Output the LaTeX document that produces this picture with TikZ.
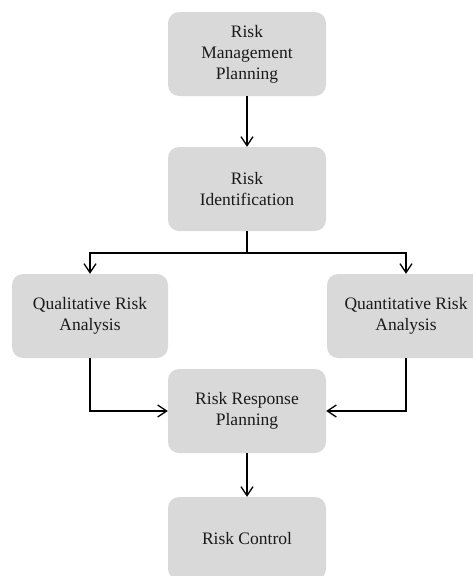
\documentclass[tikz,border=0pt]{standalone}
\usepackage{fontspec}
\setmainfont{Liberation Serif}
\usetikzlibrary{arrows.meta}
\definecolor{boxgray}{HTML}{D9D9D9}
\definecolor{txt}{HTML}{1A1A1A}
\begin{document}
\begin{tikzpicture}[x=1pt,y=-1pt,
  stepbox/.style={fill=boxgray, draw=none, rounded corners=11pt, minimum width=158pt, minimum height=84pt,
    align=center, inner sep=0pt, text=txt, font=\fontsize{17.5pt}{21pt}\selectfont},
  conn/.style={draw=black, line width=1.3pt},
  arr/.style={conn, -{Straight Barb[length=9pt,width=12pt,line width=1.3pt]}}]
\clip (0,0) rectangle (473,576);
\node[stepbox] (n1) at (247,54) {Risk\\Management\\Planning};
\node[stepbox] (n2) at (247,189) {Risk\\Identification};
\node[stepbox, minimum width=156pt] (n3) at (90,316) {Qualitative Risk\\Analysis};
\node[stepbox] (n4) at (406,316) {Quantitative Risk\\Analysis};
\node[stepbox] (n5) at (247,411) {Risk Response\\Planning};
\node[stepbox, minimum height=83pt] (n6) at (247,538.5) {Risk Control};
\coordinate (j) at (247,253);
\draw[arr] (n1) -- (n2);
\draw[conn] (n2.south) -- (j);
\draw[arr] (j) -| (n3);
\draw[arr] (j) -| (n4);
\draw[arr] (n3) |- (n5);
\draw[arr] (n4) |- (n5);
\draw[arr] (n5) -- (n6);
\end{tikzpicture}
\end{document}
